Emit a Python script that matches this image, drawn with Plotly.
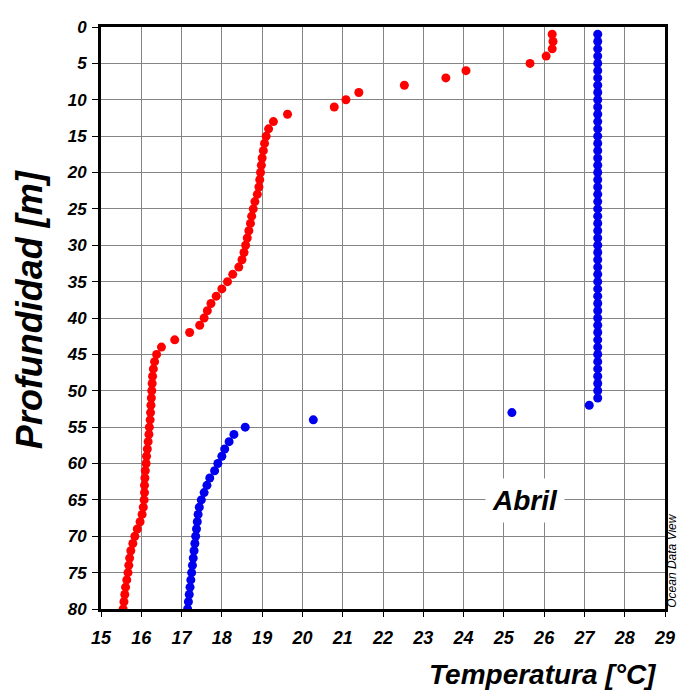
import plotly.graph_objects as go

depth = list(range(1, 81))

temp_red = [26.2, 26.22, 26.2, 26.05, 25.65, 24.06, 23.56, 22.53, 21.4, 21.08,
            20.79, 19.63, 19.28, 19.16, 19.1, 19.06, 19.03, 19.0, 18.98, 18.96,
            18.94, 18.92, 18.88, 18.82, 18.78, 18.74, 18.71, 18.67, 18.63, 18.59,
            18.55, 18.5, 18.42, 18.27, 18.14, 18.0, 17.86, 17.73, 17.64, 17.56,
            17.45, 17.2, 16.83, 16.5, 16.38, 16.33, 16.3, 16.28, 16.27, 16.26,
            16.25, 16.24, 16.23, 16.22, 16.2, 16.19, 16.17, 16.15, 16.13, 16.12,
            16.1, 16.09, 16.08, 16.08, 16.07, 16.05, 16.02, 15.97, 15.9, 15.84,
            15.79, 15.74, 15.71, 15.69, 15.67, 15.64, 15.61, 15.59, 15.57, 15.55]

temp_blue = [27.33, 27.33, 27.33, 27.33, 27.33, 27.33, 27.33, 27.33, 27.33, 27.33,
             27.33, 27.33, 27.33, 27.33, 27.33, 27.33, 27.33, 27.33, 27.33, 27.33,
             27.33, 27.33, 27.33, 27.33, 27.33, 27.33, 27.33, 27.33, 27.33, 27.33,
             27.33, 27.33, 27.33, 27.33, 27.33, 27.33, 27.33, 27.33, 27.33, 27.33,
             27.33, 27.33, 27.33, 27.33, 27.33, 27.33, 27.33, 27.33, 27.33, 27.33,
             27.33, 27.12, 25.2, 20.27, 18.58, 18.3, 18.18, 18.07, 18.0, 17.9,
             17.82, 17.7, 17.63, 17.56, 17.49, 17.44, 17.41, 17.39, 17.37, 17.35,
             17.33, 17.31, 17.29, 17.27, 17.25, 17.23, 17.21, 17.19, 17.17, 17.15]

x_ticks = list(range(15, 30))
y_ticks = list(range(0, 85, 5))

FONT = "Liberation Sans, Arial, sans-serif"

fig = go.Figure()
fig.add_trace(go.Scatter(x=temp_red, y=depth, mode="markers",
                         marker=dict(color="#ff0000", size=9, line=dict(width=0)),
                         showlegend=False))
fig.add_trace(go.Scatter(x=temp_blue, y=depth, mode="markers",
                         marker=dict(color="#0000ee", size=9, line=dict(width=0)),
                         showlegend=False))

# page body has an 8px margin: figure is sized/offset to compensate
fig.update_layout(
    width=677, height=688,
    margin=dict(l=93, r=18, t=10, b=87),
    paper_bgcolor="white", plot_bgcolor="white",
    xaxis=dict(range=[15, 29], tickvals=x_ticks, ticktext=[str(v) for v in x_ticks],
               showgrid=True, gridcolor="#858585", gridwidth=1,
               showline=True, linecolor="black", linewidth=3, mirror=True,
               ticks="outside", ticklen=5, tickwidth=1, tickcolor="black",
               ticklabelstandoff=5,
               tickfont=dict(family=FONT, size=18, color="black", weight="bold", style="italic"),
               zeroline=False),
    yaxis=dict(range=[80, 0], tickvals=y_ticks, ticktext=[str(v) for v in y_ticks],
               showgrid=True, gridcolor="#858585", gridwidth=1,
               showline=True, linecolor="black", linewidth=3, mirror=True,
               ticks="outside", ticklen=6, tickwidth=1, tickcolor="black",
               ticklabelstandoff=2,
               tickfont=dict(family=FONT, size=17, color="black", weight="bold", style="italic"),
               zeroline=False),
)

fig.add_annotation(x=25.52, y=65.1, xref="x", yref="y", text="Abril", showarrow=False,
                   font=dict(family=FONT, size=28, color="black", weight="bold", style="italic"),
                   bgcolor="white", borderpad=6)

fig.add_annotation(x=0.784, y=-0.1117, xref="paper", yref="paper", text="Temperatura [°C]",
                   showarrow=False, xanchor="center", yanchor="middle",
                   font=dict(family=FONT, size=28, color="black", weight="bold", style="italic"))

fig.add_annotation(x=-0.1254, y=0.514, xref="paper", yref="paper", text="Profundidad [m]",
                   showarrow=False, xanchor="center", yanchor="middle", textangle=-90,
                   font=dict(family=FONT, size=36, color="black", weight="bold", style="italic"))

fig.add_annotation(x=1.0125, y=0.083, xref="paper", yref="paper", text="Ocean Data View",
                   showarrow=False, xanchor="center", yanchor="middle", textangle=-90,
                   font=dict(family=FONT, size=12, color="black", style="italic"))

fig.write_html("out.html")
